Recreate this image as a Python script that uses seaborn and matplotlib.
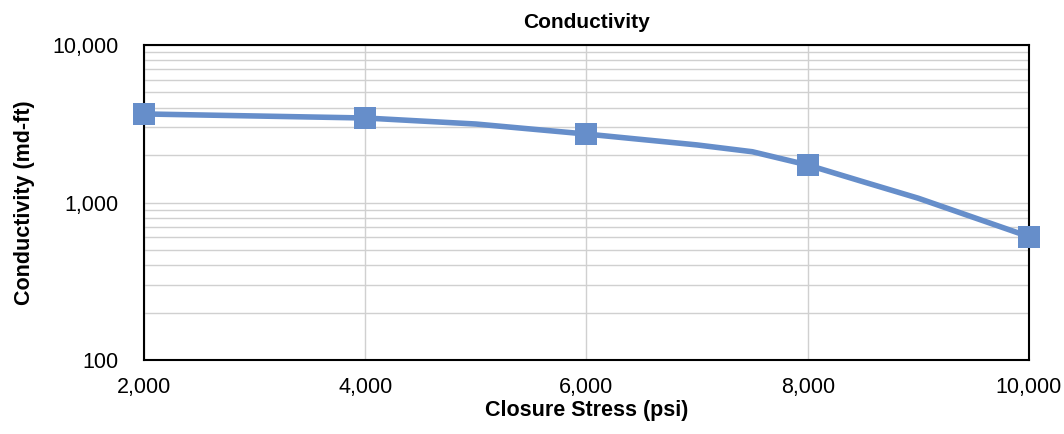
import matplotlib
matplotlib.use("Agg")
import matplotlib.pyplot as plt
import matplotlib.ticker as mticker
import seaborn as sns
import pandas as pd

# ---------------- DATA ----------------
stress_pts = [2000, 4000, 6000, 8000, 10000]
cond_pts = [3650, 3440, 2720, 1730, 607]

# line passes through a few extra readings between the markers
stress_line = [2000, 4000, 5000, 6000, 7000, 7500, 8000, 8500, 9000, 10000]
cond_line = [3650, 3440, 3150, 2720, 2320, 2100, 1730, 1355, 1064, 607]

x_ticks = [2000, 4000, 6000, 8000, 10000]
y_ticks = [100, 1000, 10000]

COLOR = "#668ECA"

# ---------------- PLOT ----------------
sns.set_style("white")
plt.rcParams['font.family'] = ['Liberation Sans', 'DejaVu Sans']
plt.rcParams['text.color'] = 'black'
plt.rcParams['axes.labelcolor'] = 'black'

fig = plt.figure(figsize=(10.64, 4.34), dpi=100)
ax = fig.add_axes([0.1353, 0.1705, 0.9671 - 0.1353, 0.8963 - 0.1705])

line_df = pd.DataFrame({'stress': stress_line, 'cond': cond_line})
pts_df = pd.DataFrame({'stress': stress_pts, 'cond': cond_pts})

sns.lineplot(data=line_df, x='stress', y='cond', ax=ax, color=COLOR,
             linewidth=4, zorder=3, clip_on=False)
sns.scatterplot(data=pts_df, x='stress', y='cond', ax=ax, color=COLOR,
                marker='s', s=260, linewidth=0, zorder=4, clip_on=False)

ax.set_yscale('log')
ax.set_ylim(100, 10000)
ax.set_xlim(2000, 10000)
ax.set_xticks(x_ticks)
ax.set_yticks(y_ticks)
ax.xaxis.set_major_formatter(mticker.FuncFormatter(lambda v, p: f"{int(v):,}"))
ax.yaxis.set_major_formatter(mticker.FuncFormatter(lambda v, p: f"{int(v):,}"))
ax.yaxis.set_minor_locator(mticker.LogLocator(base=10, subs=range(2, 10)))
ax.yaxis.set_minor_formatter(mticker.NullFormatter())

ax.grid(True, which='major', axis='both', color='#d0d0d0', linewidth=1)
ax.grid(True, which='minor', axis='y', color='#d0d0d0', linewidth=1)
ax.set_axisbelow(True)

for s in ax.spines.values():
    s.set_color('black')
    s.set_linewidth(1.5)

ax.tick_params(axis='both', which='major', direction='out', length=5,
               width=1, color='#808080', labelsize=15.5, labelcolor='black')
ax.tick_params(axis='x', which='major', pad=7)
ax.tick_params(axis='y', which='major', pad=13)
ax.tick_params(axis='y', which='minor', length=0)

ax.set_xlabel('Closure Stress (psi)', fontsize=15.5, fontweight='bold')
ax.set_ylabel('Conductivity (md-ft)', fontsize=15.5, fontweight='bold')
ax.xaxis.set_label_coords(0.5, -0.127)
ax.yaxis.set_label_coords(-0.123, 0.5)
ax.set_title('Conductivity', fontsize=15, fontweight='bold', pad=12)

fig.savefig('out.png', dpi=100)
